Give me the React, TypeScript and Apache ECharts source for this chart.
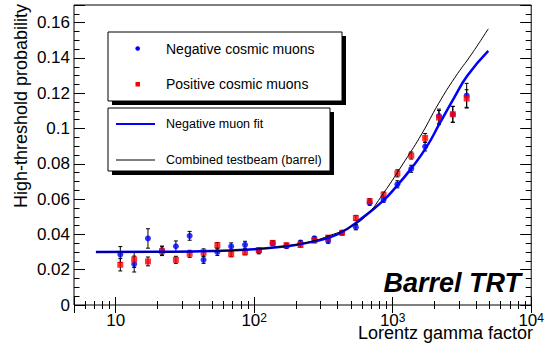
import React, { useEffect, useRef } from 'react';
import * as echarts from 'echarts';

// Lorentz gamma factor of each measured bin
const gammaPoints = [10.8, 13.6, 17.1, 21.6, 27.2, 34.2, 43.1, 54.2, 68.2, 85.9, 108, 136, 171, 216, 272, 342, 431, 542, 682, 859, 1081, 1361, 1714, 2158, 2716, 3420];

// Negative cosmic muons
const negValues = [0.0286, 0.0232, 0.0377, 0.0309, 0.0333, 0.0392, 0.0256, 0.0301, 0.0332, 0.0341, 0.0305, 0.035, 0.0333, 0.0354, 0.0377, 0.0362, 0.041, 0.0441, 0.058, 0.0597, 0.0684, 0.0772, 0.0898, 0.107, 0.108, 0.1186];
const negErrors = [0.0045, 0.0045, 0.0055, 0.0025, 0.003, 0.0025, 0.002, 0.002, 0.002, 0.002, 0.0015, 0.0015, 0.0012, 0.0012, 0.0012, 0.0012, 0.0012, 0.0015, 0.0015, 0.0015, 0.002, 0.002, 0.0025, 0.004, 0.0045, 0.007];

// Positive cosmic muons
const posValues = [0.0228, 0.0258, 0.0247, 0.0305, 0.0256, 0.029, 0.0298, 0.0339, 0.0288, 0.0299, 0.0311, 0.0352, 0.0339, 0.034, 0.0365, 0.0382, 0.0409, 0.0493, 0.0588, 0.0625, 0.0746, 0.0847, 0.0947, 0.1062, 0.1081, 0.117];
const posErrors = [0.0035, 0.0045, 0.0025, 0.0025, 0.002, 0.002, 0.002, 0.0015, 0.0015, 0.0015, 0.0012, 0.0012, 0.0012, 0.0012, 0.0012, 0.0012, 0.0012, 0.0015, 0.0015, 0.0015, 0.002, 0.002, 0.0025, 0.004, 0.0045, 0.005];

// Negative muon fit
const fitGamma = [7.2, 20, 50, 100, 158, 251, 398, 631, 851, 1072, 1349, 1738, 2188, 2754, 3467, 4898];
const fitValues = [0.0301, 0.0302, 0.0306, 0.0316, 0.033, 0.0355, 0.04, 0.0505, 0.059, 0.0675, 0.077, 0.089, 0.103, 0.117, 0.13, 0.144];

// Combined testbeam (barrel)
const beamGamma = [7.2, 20, 50, 100, 158, 251, 355, 490, 646, 851, 1230, 1622, 2138, 2818, 3715, 4898];
const beamValues = [0.0301, 0.0301, 0.0305, 0.0316, 0.0332, 0.0358, 0.0395, 0.044, 0.0508, 0.063, 0.0819, 0.097, 0.114, 0.129, 0.1422, 0.1565];

const xTickLabels: Record<number, string> = { 10: '10', 100: '10{s|2}', 1000: '10{s|3}', 10000: '10{s|4}' };

const FONT = '"Liberation Sans", Arial, Helvetica, sans-serif';

export default function App() {
  const ref = useRef<HTMLDivElement>(null);
  useEffect(() => {
    document.body.style.margin = '0';
    const chart = echarts.init(ref.current!, null, { renderer: 'svg' });

    const errData = (vals: number[], errs: number[]) =>
      gammaPoints.map((g, i) => [g, vals[i] - errs[i], vals[i] + errs[i]]);

    const errSeries = (vals: number[], errs: number[]) => ({
      type: 'custom',
      xAxisIndex: 0,
      yAxisIndex: 0,
      z: 2,
      encode: { x: 0, y: [1, 2] },
      data: errData(vals, errs),
      renderItem: (params: any, api: any) => {
        const x = api.value(0);
        const lo = api.coord([x, api.value(1)]);
        const hi = api.coord([x, api.value(2)]);
        const cap = 2;
        const st = { stroke: '#000', lineWidth: 1 };
        return {
          type: 'group',
          children: [
            { type: 'line', shape: { x1: lo[0], y1: lo[1], x2: hi[0], y2: hi[1] }, style: st },
            { type: 'line', shape: { x1: lo[0] - cap, y1: lo[1], x2: lo[0] + cap, y2: lo[1] }, style: st },
            { type: 'line', shape: { x1: hi[0] - cap, y1: hi[1], x2: hi[0] + cap, y2: hi[1] }, style: st },
          ],
        };
      },
    });

    const xAxisBase = {
      type: 'log',
      logBase: 10,
      min: 5,
      max: 10000,
      axisLine: { show: false },
      splitLine: { show: false },
      axisTick: { show: true, inside: true, length: 8, lineStyle: { color: '#000' } },
      minorTick: { show: true, splitNumber: 9, length: 4, lineStyle: { color: '#000' } },
      minorSplitLine: { show: false },
    };
    const yAxisBase = {
      type: 'value',
      min: 0,
      max: 0.17,
      interval: 0.02,
      axisLine: { show: false },
      splitLine: { show: false },
      axisTick: { show: true, inside: true, length: 11, lineStyle: { color: '#000' } },
      minorTick: { show: true, splitNumber: 4, length: 5.5, lineStyle: { color: '#000' } },
      minorSplitLine: { show: false },
    };

    chart.setOption({
      animation: false,
      grid: { left: 74, right: 12, top: 5, bottom: 38, show: true, borderColor: '#000', borderWidth: 1, backgroundColor: 'transparent' },
      xAxis: [
        {
          ...xAxisBase,
          position: 'bottom',
          axisLabel: {
            show: true,
            showMinLabel: false,
            margin: 7,
            color: '#000',
            fontFamily: FONT,
            fontSize: 17,
            formatter: (v: number) => xTickLabels[Math.round(v)] ?? '',
            rich: {
              s: { fontSize: 12, fontFamily: FONT, color: '#000', verticalAlign: 'top', lineHeight: 12 },
            },
          },
        },
        { ...xAxisBase, position: 'top', axisLabel: { show: false } },
      ],
      yAxis: [
        {
          ...yAxisBase,
          position: 'left',
          axisLabel: { show: true, showMaxLabel: false, margin: 4, color: '#000', fontFamily: FONT, fontSize: 17 },
        },
        { ...yAxisBase, position: 'right', axisLabel: { show: false } },
      ],
      series: [
        errSeries(negValues, negErrors),
        errSeries(posValues, posErrors),
        {
          type: 'scatter',
          name: 'Negative cosmic muons',
          symbol: 'circle',
          symbolSize: 6,
          itemStyle: { color: '#0000ff' },
          z: 3,
          data: gammaPoints.map((g, i) => [g, negValues[i]]),
        },
        {
          type: 'scatter',
          name: 'Positive cosmic muons',
          symbol: 'rect',
          symbolSize: 6,
          itemStyle: { color: '#ff0000' },
          z: 4,
          data: gammaPoints.map((g, i) => [g, posValues[i]]),
        },
        {
          type: 'line',
          name: 'Negative muon fit',
          showSymbol: false,
          smooth: 0.5,
          lineStyle: { color: '#0000ff', width: 2.5 },
          z: 5,
          data: fitGamma.map((g, i) => [g, fitValues[i]]),
        },
        {
          type: 'line',
          name: 'Combined testbeam (barrel)',
          showSymbol: false,
          smooth: 0.5,
          lineStyle: { color: '#000', width: 1 },
          z: 6,
          data: beamGamma.map((g, i) => [g, beamValues[i]]),
        },
      ],
      graphic: [
        // legend 1
        { type: 'rect', shape: { x: 112, y: 36, width: 234, height: 69 }, style: { fill: '#000' }, z: 10 },
        { type: 'rect', shape: { x: 108, y: 32, width: 234, height: 69 }, style: { fill: '#fff', stroke: '#000', lineWidth: 1 }, z: 11 },
        { type: 'circle', shape: { cx: 137.7, cy: 48.5, r: 2.3 }, style: { fill: '#0000ff' }, z: 12 },
        { type: 'text', x: 166, y: 48.5, style: { text: 'Negative cosmic muons', fill: '#000', font: `14px ${FONT}`, textVerticalAlign: 'middle' }, z: 12 },
        { type: 'rect', shape: { x: 135.5, y: 82, width: 4.5, height: 4.5 }, style: { fill: '#ff0000' }, z: 12 },
        { type: 'text', x: 166, y: 84.3, style: { text: 'Positive cosmic muons', fill: '#000', font: `14px ${FONT}`, textVerticalAlign: 'middle' }, z: 12 },
        // legend 2
        { type: 'rect', shape: { x: 112, y: 112, width: 222, height: 63 }, style: { fill: '#000' }, z: 10 },
        { type: 'rect', shape: { x: 108, y: 108, width: 222, height: 63 }, style: { fill: '#fff', stroke: '#000', lineWidth: 1 }, z: 11 },
        { type: 'line', shape: { x1: 116, y1: 124, x2: 155, y2: 124 }, style: { stroke: '#0000ff', lineWidth: 2 }, z: 12 },
        { type: 'text', x: 166, y: 124, style: { text: 'Negative muon fit', fill: '#000', font: `12.5px ${FONT}`, textVerticalAlign: 'middle' }, z: 12 },
        { type: 'line', shape: { x1: 116, y1: 160, x2: 155, y2: 160 }, style: { stroke: '#000', lineWidth: 1 }, z: 12 },
        { type: 'text', x: 166, y: 159.5, style: { text: 'Combined testbeam (barrel)', fill: '#000', font: `12.5px ${FONT}`, textVerticalAlign: 'middle' }, z: 12 },
        // Barrel TRT label
        { type: 'text', x: 521, y: 283, style: { text: 'Barrel TRT', fill: '#000', font: `italic bold 27px ${FONT}`, textAlign: 'right', textVerticalAlign: 'middle' }, z: 12 },
        // axis titles
        { type: 'text', x: 533, y: 333, style: { text: 'Lorentz gamma factor', fill: '#000', font: `18px ${FONT}`, textAlign: 'right', textVerticalAlign: 'middle' }, z: 12 },
        { type: 'text', x: 21, y: 4, rotation: Math.PI / 2, style: { text: 'High-threshold probability', fill: '#000', font: `18px ${FONT}`, textAlign: 'right', textVerticalAlign: 'middle' }, z: 12 },
      ],
    });
    return () => chart.dispose();
  }, []);
  return <div ref={ref} style={{ width: 547, height: 343 }} />;
}
